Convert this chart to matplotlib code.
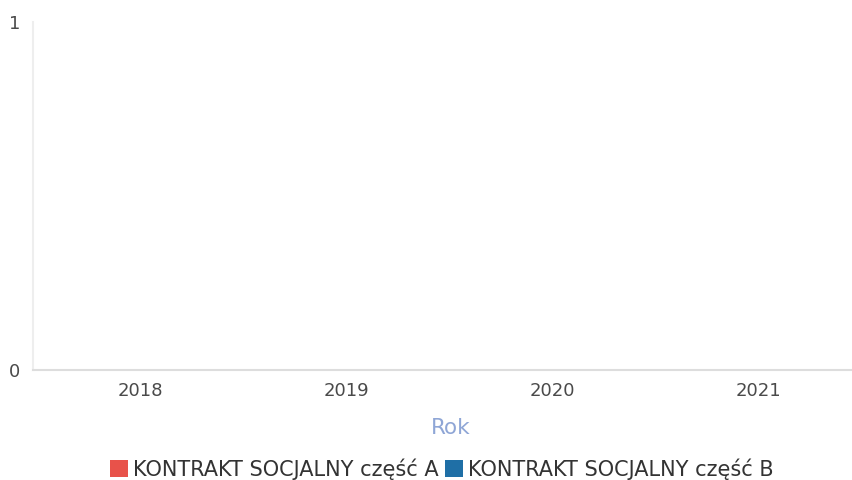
import numpy as np
import matplotlib.pyplot as plt
from matplotlib.patches import Patch

plt.rcParams['font.family'] = ['DejaVu Sans']

years = ['2018', '2019', '2020', '2021']
czesc_a = [0, 0, 0, 0]
czesc_b = [0, 0, 0, 0]
labels = ['KONTRAKT SOCJALNY część A', 'KONTRAKT SOCJALNY część B']
colors = ['#e8524a', '#1f6fa6']

W, H = 852, 480
fig = plt.figure(figsize=(W / 100, H / 100), dpi=100)
ax = fig.add_axes([33 / W, 1 - 370 / H, 1 - 33 / W, (370 - 22) / H])

x = np.arange(len(years))
ax.bar(x - 0.2, czesc_a, width=0.4, color=colors[0])
ax.bar(x + 0.2, czesc_b, width=0.4, color=colors[1])

ax.set_xlim(-0.52, 3.456)
ax.set_ylim(0, 1)
ax.set_yticks([0, 1])
ax.set_xticks(x, years)
ax.tick_params(axis='both', length=0, labelsize=13, labelcolor='#4a4a4a')
ax.tick_params(axis='x', pad=9)
ax.tick_params(axis='y', pad=9)

for s in ['top', 'right']:
    ax.spines[s].set_visible(False)
ax.spines['left'].set_color('#eeeeee')
ax.spines['bottom'].set_color('#dddddd')
ax.spines['left'].set_linewidth(1.5)
ax.spines['bottom'].set_linewidth(1.5)

# axis title
fig.text(451 / W, 1 - 428 / H, 'Rok', color='#8fa6d6', fontsize=15.5,
         ha='center', va='center')

handles = [Patch(facecolor=c, edgecolor='none') for c in colors]
fig.legend(handles, labels, loc='center', bbox_to_anchor=(442 / W, 1 - 469 / H),
           ncol=2, frameon=False, fontsize=15, handlelength=0.85, handleheight=0.85,
           handletextpad=0.25, columnspacing=0.3, labelcolor='#333333',
           borderpad=0, borderaxespad=0)

fig.savefig('out.png', dpi=100)
